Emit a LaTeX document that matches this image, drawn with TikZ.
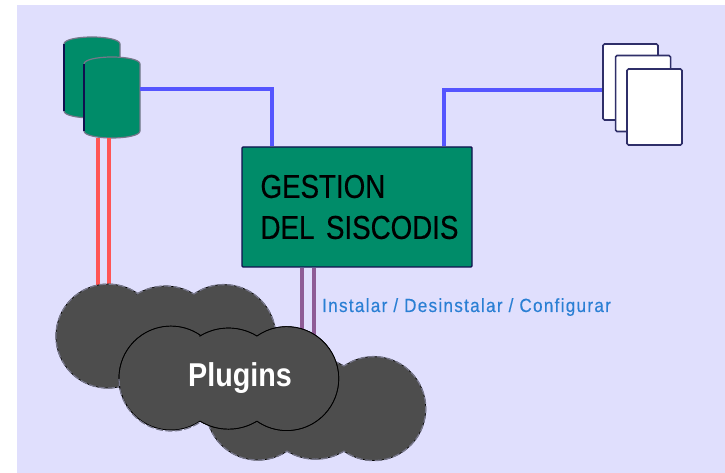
\documentclass[tikz,border=0pt]{standalone}
\usepackage{fontspec}
\usetikzlibrary{positioning}
\newfontfamily\boxfont[FakeStretch=0.84,FakeBold=0.5,WordSpace=1.5]{Liberation Sans}
\newfontfamily\labelfont[FakeStretch=0.9,FakeBold=0.4,LetterSpace=6.8]{Liberation Sans}
\newfontfamily\cloudfont[FakeStretch=0.87]{Liberation Sans Bold}
\definecolor{lavender}{HTML}{E0DFFD}
\definecolor{dbgreen}{HTML}{008C69}
\definecolor{navy}{HTML}{10104F}
\definecolor{edgegray}{HTML}{77778A}
\definecolor{cloudgray}{HTML}{4D4D4D}
\definecolor{bluewire}{HTML}{5555FF}
\definecolor{redwire}{HTML}{FF5555}
\definecolor{purplewire}{HTML}{8E5C96}
\definecolor{labelblue}{HTML}{2A7FD4}
\tikzset{
	gestionbox/.style={
		rectangle,
		draw=navy,
		line width=1.4pt,
		fill=dbgreen,
		rounded corners=1pt,
		minimum width=230pt,
		minimum height=120pt,
		align=left,
		inner sep=0pt,
		font=\boxfont\fontsize{33}{41}\selectfont
	},
	paper/.style={
		rectangle,
		draw=navy!85!lavender,
		line width=1.6pt,
		fill=white,
		rounded corners=1.5pt,
		minimum width=55pt,
		minimum height=76pt,
		inner sep=0pt
	},
	blueline/.style={draw=bluewire,line width=4pt},
	redline/.style={draw=redwire,line width=4pt},
	purpleline/.style={draw=purplewire,line width=4pt},
	cloudedge/.style={edgegray,line width=1.3pt,dash pattern=on 7pt off 2.5pt},
	database/.pic={
		\fill[dbgreen] (-28,-33.5) -- (-28,33.5) .. controls (-28,38) and (-14,40.5) .. (0,40.5)
		.. controls (14,40.5) and (28,38) .. (28,33.5) -- (28,-33.5)
		.. controls (28,-38) and (14,-40.5) .. (0,-40.5) .. controls (-14,-40.5) and (-28,-38) .. (-28,-33.5) -- cycle;
		\draw[edgegray,line width=1.2pt] (-28,33.5) .. controls (-28,38) and (-14,40.5) .. (0,40.5)
		.. controls (14,40.5) and (28,38) .. (28,33.5) -- (28,-33.5)
		.. controls (28,-38) and (14,-40.5) .. (0,-40.5) .. controls (-14,-40.5) and (-28,-38) .. (-28,-33.5);
		\draw[navy,line width=1.2pt] (-28,-33.5) -- (-28,33.5);
		\node[minimum width=56pt,minimum height=81pt,inner sep=0pt] (-body) at (0,0) {};
	},
	plugincloud/.pic={
		\path[fill=cloudgray,draw=black,line width=0.7pt] (-29,43) arc[start angle=121.3,end angle=58.7,radius=54.8]
		arc[start angle=125,end angle=-125,radius=52]
		arc[start angle=-58.7,end angle=-121.3,radius=54.8]
		arc[start angle=-56,end angle=-304,radius=52] -- cycle;
		\draw[#1] (-29,43) arc[start angle=121.3,end angle=58.7,radius=54.8]
		arc[start angle=125,end angle=-125,radius=52]
		arc[start angle=-58.7,end angle=-121.3,radius=54.8]
		arc[start angle=-56,end angle=-304,radius=52] -- cycle;
		\node[minimum width=220pt,minimum height=104pt,inner sep=0pt] (-body) at (0,0) {};
	}
}
\begin{document}
\begin{tikzpicture}[x=1pt,y=1pt]
	\useasboundingbox (0,0) rectangle (725,473);
	\fill[white] (0,0) rectangle (725,473);
	\fill[lavender] (17,0) rectangle (725,468);

	\pic (db1) at (92,395.5) {database};
	\pic (db2) at (112,375.5) {database};

	\node [gestionbox] (gestion) at (357,266) {\hspace*{5pt}GESTION\\\hspace*{5pt}DEL SISCODIS};

	\node [paper] (p1) at (630.5,391) {};
	\node [paper] (p2) [right=-44pt of p1.east,anchor=west,yshift=-11.5pt] {};
	\node [paper] (p3) at (654.5,366) {};

	% wires first, the clouds cover their ends
	\draw[blueline] ([yshift=8pt]db2-body.east) -| ([xshift=31pt]gestion.north west);
	\draw[blueline] ([xshift=-29pt]gestion.north east) |- ([yshift=-8pt]p1.west);

	\coordinate (backtop) at (166,188);
	\coordinate (fronttop) at (229,146);
	\draw[redline] ([xshift=-14pt]db2-body.south) -- ([xshift=-68pt,yshift=-5pt]backtop);
	\draw[redline] ([xshift=-3pt]db2-body.south) -- ([xshift=-57pt,yshift=-5pt]backtop);
	\draw[purpleline] ([xshift=-55pt]gestion.south) -- ([xshift=73pt,yshift=-18pt]fronttop);
	\draw[purpleline] ([xshift=-43pt]gestion.south) -- ([xshift=85pt,yshift=-24pt]fronttop);

	\pic (cloudA) at (166,136) {plugincloud={cloudedge}};
	\pic (cloudB) at (316,64) {plugincloud={cloudedge}};
	\pic (cloudC) at (229,94) {plugincloud={black,line width=0.7pt}};
	% outer rim of the front cloud, where it stands on the background
	\draw[cloudedge] (119,94) arc[start angle=180,end angle=304,radius=52];

	\node [anchor=base,text=white,inner sep=0pt,font=\cloudfont\fontsize{33}{40}\selectfont] (plugins) at (240,86) {Plugins};
	\node [anchor=base west,text=labelblue,inner sep=0pt,font=\labelfont\fontsize{19}{23}\selectfont] (accion) at (322,161) {Instalar / Desinstalar / Configurar};
\end{tikzpicture}
\end{document}
